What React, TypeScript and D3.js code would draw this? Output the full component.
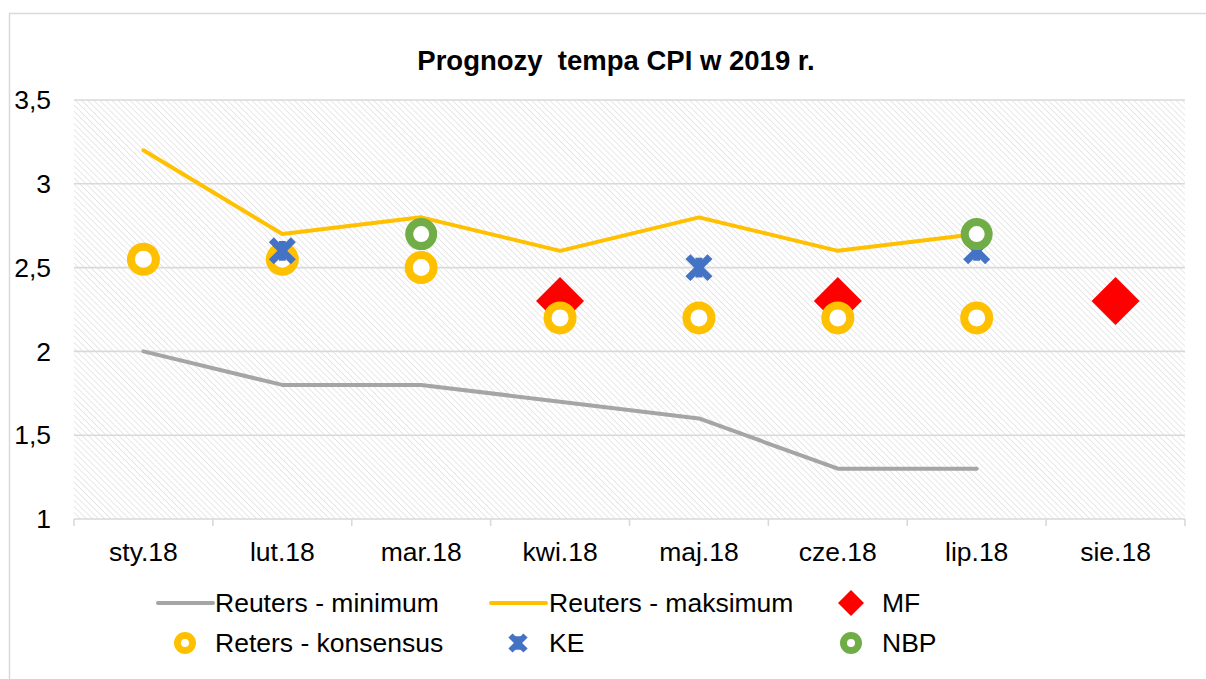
import * as d3 from 'd3';

// data
const months = ['sty.18', 'lut.18', 'mar.18', 'kwi.18', 'maj.18', 'cze.18', 'lip.18', 'sie.18'];
const reutersMin = [2, 1.8, 1.8, 1.7, 1.6, 1.3, 1.3, null];
const reutersMax = [3.2, 2.7, 2.8, 2.6, 2.8, 2.6, 2.7, null];
const mf = [null, null, null, 2.3, null, 2.3, null, 2.3];
const konsensus = [2.55, 2.55, 2.5, 2.2, 2.2, 2.2, 2.2, null];
const ke = [null, 2.6, null, null, 2.5, null, 2.6, null];
const nbp = [null, null, 2.7, null, null, null, 2.7, null];
const yTicks = [1, 1.5, 2, 2.5, 3, 3.5];

const W = 1206;
const H = 679;
const FONT = 'Liberation Sans, Arial, sans-serif';
const GRAY = '#A5A5A5';
const YELLOW = '#FFC000';
const BLUE = '#4472C4';
const RED = '#FF0000';
const GREEN = '#70AD47';
const FS = 26.5;

const margin = { left: 74, right: 1185, top: 100, bottom: 519 };

const x = d3.scaleBand<string>().domain(months).range([margin.left, margin.right]);
const y = d3.scaleLinear().domain([1, 3.5]).range([margin.bottom, margin.top]);
const cx = (i: number) => (x(months[i]) ?? 0) + x.bandwidth() / 2;

type V = number | null;
const line = d3
  .line<V>()
  .defined(d => d !== null)
  .x((_, i) => cx(i))
  .y(d => y(d as number));

const fmt = (v: number) => String(v).replace('.', ',');

function Diamond({ x0, y0, r }: { x0: number; y0: number; r: number }) {
  return <path d={`M${x0},${y0 - r}L${x0 + r},${y0}L${x0},${y0 + r}L${x0 - r},${y0}Z`} fill={RED} />;
}

function Ring({ x0, y0, r, w, color }: { x0: number; y0: number; r: number; w: number; color: string }) {
  return <circle cx={x0} cy={y0} r={r} fill="#fff" stroke={color} strokeWidth={w} />;
}

function Star({ x0, y0, s, w }: { x0: number; y0: number; s: number; w: number }) {
  return (
    <g stroke={BLUE} strokeWidth={w} strokeLinecap="butt">
      <line x1={x0 - s} y1={y0 - s} x2={x0 + s} y2={y0 + s} />
      <line x1={x0 - s} y1={y0 + s} x2={x0 + s} y2={y0 - s} />
      <line x1={x0} y1={y0 - s * 0.9} x2={x0} y2={y0 + s * 0.9} />
    </g>
  );
}

export default function App() {
  const pts = (arr: V[]) =>
    arr.map((v, i) => ({ v, i })).filter(d => d.v !== null) as { v: number; i: number }[];

  return (
    <svg width={W} height={H} style={{ position: 'absolute', left: 0, top: 0 }} fontFamily={FONT}>
      <defs>
        <pattern id="hatch" patternUnits="userSpaceOnUse" width={4.3} height={4.3} patternTransform="rotate(45)">
          <line x1={0} y1={0} x2={4.3} y2={0} stroke="#DCDCDC" strokeWidth={1.3} />
        </pattern>
      </defs>
      <rect x={0} y={0} width={W} height={H} fill="#fff" />
      <rect x={9.5} y={13.5} width={W + 20} height={H + 20} fill="none" stroke="#D9D9D9" strokeWidth={1.5} />

      <text x={616} y={70} textAnchor="middle" fontSize={27.5} fontWeight="bold" style={{ whiteSpace: 'pre' }}>
        {'Prognozy  tempa CPI w 2019 r.'}
      </text>

      {/* plot area */}
      <rect x={margin.left} y={margin.top} width={margin.right - margin.left} height={margin.bottom - margin.top} fill="url(#hatch)" />
      {yTicks.map(t => (
        <g key={t}>
          <line x1={margin.left} x2={margin.right} y1={y(t)} y2={y(t)} stroke="#D9D9D9" strokeWidth={1.6} />
          <text x={51} y={y(t)} dy="0.35em" textAnchor="end" fontSize={FS}>
            {fmt(t)}
          </text>
        </g>
      ))}
      {months.map((m, i) => (
        <g key={m}>
          <line x1={x(m)} x2={x(m)} y1={margin.bottom} y2={margin.bottom + 7} stroke="#D9D9D9" strokeWidth={1.6} />
          <text x={cx(i)} y={561} textAnchor="middle" fontSize={FS}>
            {m}
          </text>
        </g>
      ))}
      <line x1={margin.right} x2={margin.right} y1={margin.bottom} y2={margin.bottom + 7} stroke="#D9D9D9" strokeWidth={1.6} />

      {/* series */}
      <path d={line(reutersMin) ?? ''} fill="none" stroke={GRAY} strokeWidth={4} strokeLinejoin="round" strokeLinecap="round" />
      <path d={line(reutersMax) ?? ''} fill="none" stroke={YELLOW} strokeWidth={4} strokeLinejoin="round" strokeLinecap="round" />
      {pts(mf).map(d => (
        <Diamond key={'mf' + d.i} x0={cx(d.i)} y0={y(d.v)} r={24} />
      ))}
      {pts(konsensus).map(d => (
        <Ring key={'k' + d.i} x0={cx(d.i)} y0={y(d.v)} r={12.5} w={8} color={YELLOW} />
      ))}
      {pts(ke).map(d => (
        <Star key={'ke' + d.i} x0={cx(d.i)} y0={y(d.v)} s={11} w={7} />
      ))}
      {pts(nbp).map(d => (
        <Ring key={'n' + d.i} x0={cx(d.i)} y0={y(d.v)} r={12} w={8} color={GREEN} />
      ))}

      {/* legend */}
      <g fontSize={FS}>
        <line x1={158} x2={213} y1={603} y2={603} stroke={GRAY} strokeWidth={4} strokeLinecap="round" />
        <text x={215} y={603} dy="0.35em">Reuters - minimum</text>
        <line x1={491} x2={546} y1={603} y2={603} stroke={YELLOW} strokeWidth={4} strokeLinecap="round" />
        <text x={549} y={603} dy="0.35em">Reuters - maksimum</text>
        <Diamond x0={851} y0={603} r={13} />
        <text x={882} y={603} dy="0.35em">MF</text>

        <Ring x0={185} y0={643} r={7.5} w={7} color={YELLOW} />
        <text x={215} y={643} dy="0.35em">Reters - konsensus</text>
        <Star x0={518} y0={643} s={7.5} w={6} />
        <text x={549} y={643} dy="0.35em">KE</text>
        <Ring x0={851} y0={643} r={7.5} w={7} color={GREEN} />
        <text x={882} y={643} dy="0.35em">NBP</text>
      </g>
    </svg>
  );
}
